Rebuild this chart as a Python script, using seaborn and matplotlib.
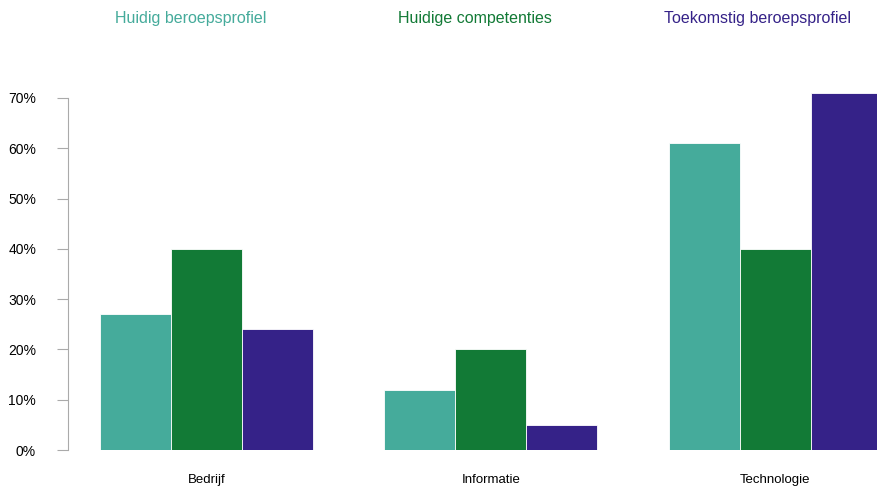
import pandas as pd
import matplotlib.pyplot as plt
import seaborn as sns

# Gegevens
categorieen = ['Bedrijf', 'Informatie', 'Technologie']
reeksen = ['Huidig beroepsprofiel', 'Huidige competenties', 'Toekomstig beroepsprofiel']
huidig_profiel = [0.27, 0.12, 0.61]
huidige_comp = [0.40, 0.20, 0.40]
toekomstig_profiel = [0.24, 0.05, 0.71]
kleuren = ['#45AB9B', '#127A36', '#352288']
y_ticks = [0, 0.1, 0.2, 0.3, 0.4, 0.5, 0.6, 0.7]

df = pd.DataFrame({
    'categorie': categorieen * 3,
    'reeks': [reeksen[0]] * 3 + [reeksen[1]] * 3 + [reeksen[2]] * 3,
    'waarde': huidig_profiel + huidige_comp + toekomstig_profiel,
})

sns.set_style('white')
plt.rcParams['font.family'] = ['Liberation Sans', 'DejaVu Sans']
plt.rcParams['xtick.color'] = 'black'
plt.rcParams['ytick.color'] = 'black'

fig = plt.figure(figsize=(8.77, 4.87), dpi=100)
ax = fig.add_axes([68 / 877, 37 / 487, 1 - 68 / 877, (450 - 47.6) / 487])

sns.barplot(data=df, x='categorie', y='waarde', hue='reeks', hue_order=reeksen,
            palette=kleuren, width=0.75, gap=0, edgecolor='#ffffff', linewidth=0.6,
            saturation=1, ax=ax, legend=False)

ax.set_xlim(-0.489, 2.359)
ax.set_ylim(0, 0.8)
ax.set_yticks(y_ticks)
ax.set_yticklabels([f'{int(round(t * 100))}%' for t in y_ticks], fontsize=10)
ax.set_xlabel('')
ax.set_ylabel('')
ax.tick_params(axis='x', length=0, pad=17, labelsize=9.5, labelcolor='black')
ax.tick_params(axis='y', left=True, length=8, width=0.8, color='#aaaaaa', pad=15,
               labelcolor='black')

for s in ['top', 'right', 'bottom']:
    ax.spines[s].set_visible(False)
ax.spines['left'].set_color('#aaaaaa')
ax.spines['left'].set_linewidth(0.8)
ax.spines['left'].set_bounds(0, 0.7)

# Legenda als gekleurde titels bovenaan
titel_x = [191, 475, 758]
for naam, kleur, x in zip(reeksen, kleuren, titel_x):
    fig.text(x / 877, 1 - 18 / 487, naam, color=kleur, fontsize=11.5,
             ha='center', va='center')

fig.savefig('out.png', dpi=100)
